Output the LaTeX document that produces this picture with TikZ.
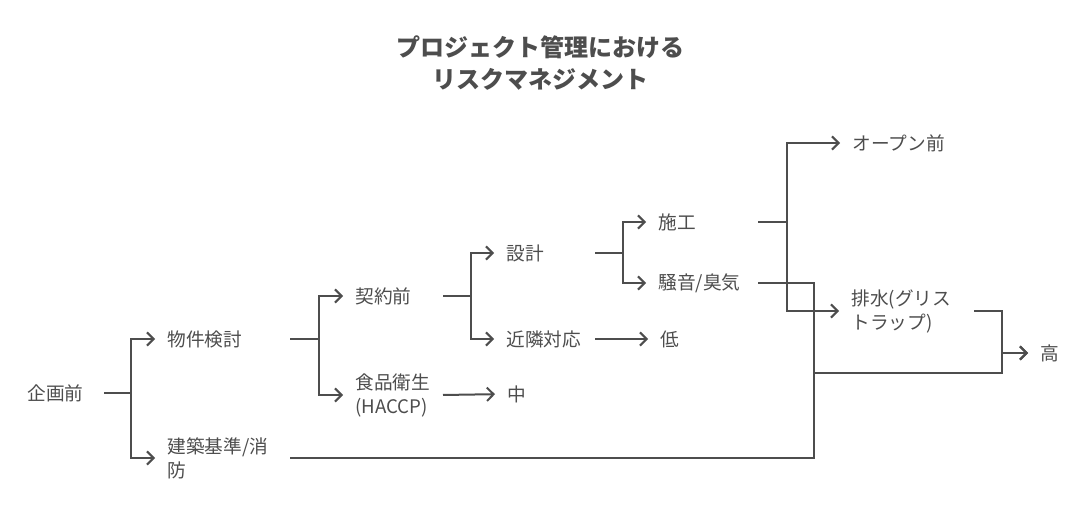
\documentclass[tikz,border=0pt]{standalone}
\usepackage{fontspec}
\setmainfont{Noto Sans CJK JP}
\usetikzlibrary{arrows.meta}

\definecolor{inkgrey}{RGB}{77,77,77}
\tikzset{every picture/.style={line width=0.75pt}}
\tikzset{
  lbl/.style={anchor=west, inner sep=0pt, align=left, text=inkgrey, font=\fontsize{14}{18}\selectfont},
  wire/.style={draw=inkgrey, line width=1.5pt},
  link/.style={wire, -{Straight Barb[length=5pt,width=10pt]}, shorten >=9pt},
}

\begin{document}
\begin{tikzpicture}[x=0.75pt,y=0.75pt,yscale=-1,xscale=1]
\path (0,0) rectangle (1084,530); %set diagram size

% Title
\draw (540,63) node [text=inkgrey, inner sep=0pt, align=center, font=\bfseries\fontsize{18}{24}\selectfont] (title) {プロジェクト管理における\\リスクマネジメント};

% Text Node
\draw (27,393) node [lbl, text width=57pt] (kikaku) {企画前};
% Text Node
\draw (167,339) node [lbl, text width=91.5pt] (bukken) {物件検討};
% Text Node
\draw (167,458) node [lbl, text width=91.5pt] (kenchiku) {建築基準/消\\防};
% Text Node
\draw (355,296) node [lbl, text width=65.25pt] (keiyaku) {契約前};
% Text Node
\draw (355,395) node [lbl, text width=65.25pt] (shokuhin) {食品衛生\\(HACCP)};
% Text Node
\draw (506,253) node [lbl, text width=66pt] (sekkei) {設計};
% Text Node
\draw (506,339) node [lbl, text width=66pt] (kinrin) {近隣対応};
% Text Node
\draw (658,222) node [lbl, text width=74.25pt] (sekou) {施工};
% Text Node
\draw (658,283) node [lbl, text width=74.25pt] (souon) {騒音/臭気};
% Text Node
\draw (851,311) node [lbl, text width=91.5pt] (haisui) {排水(グリス\\トラップ)};
% Text Node
\draw (852,143) node [lbl] (open) {オープン前};
% Text Node
\draw (660,339) node [lbl] (hikui) {低};
% Text Node
\draw (507,394) node [lbl] (naka) {中};
% Text Node
\draw (1040,353) node [lbl] (taka) {高};

%Straight Lines
\draw [link] (kikaku.east) -- ++(27,0) |- (bukken.west);
\draw [link] (kikaku.east) -- ++(27,0) |- (kenchiku.west);
%Straight Lines
\draw [link] (bukken.east) -- ++(29,0) |- (keiyaku.west);
\draw [link] (bukken.east) -- ++(29,0) |- (shokuhin.west);
%Straight Lines
\draw [link] (keiyaku.east) -- ++(28,0) |- (sekkei.west);
\draw [link] (keiyaku.east) -- ++(28,0) |- (kinrin.west);
\draw [link] (shokuhin.east) -- (naka.west);
\draw [link] (kinrin.east) -- (hikui.west);
%Straight Lines
\draw [link] (sekkei.east) -- ++(28,0) |- (sekou.west);
\draw [link] (sekkei.east) -- ++(28,0) |- (souon.west);
%Straight Lines
\draw [link] (sekou.east) -- ++(29,0) |- (open.west);
\draw [link] (sekou.east) -- ++(29,0) |- (haisui.west);
%Straight Lines
\coordinate (jn) at (814,373);
\coordinate (merge) at (1002,353);
\draw [wire] (souon.east) -| (jn);
\draw [wire] (kenchiku.east) -| (jn);
\draw [link] (jn) -| (merge) -- (taka.west);
\draw [link] (haisui.east) -| (merge) -- (taka.west);

\end{tikzpicture}
\end{document}
